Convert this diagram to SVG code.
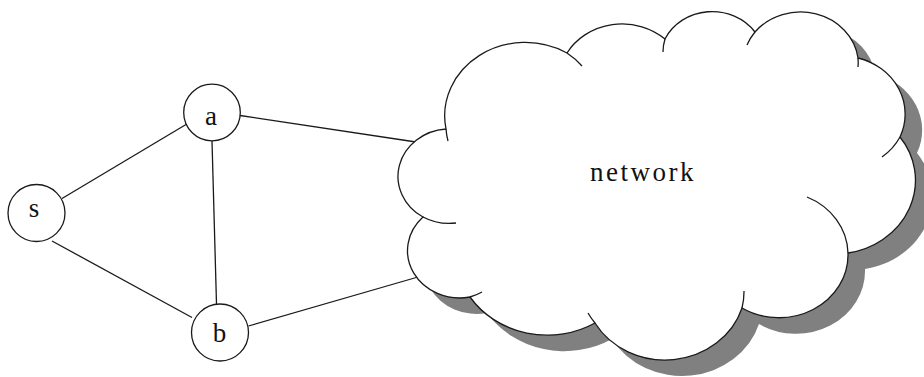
<svg xmlns="http://www.w3.org/2000/svg" width="924" height="377" viewBox="0 0 924 377">
<defs>
<style>
.edge{stroke:#1a1a1a;stroke-width:1.3;fill:none}
.node circle{fill:#fff;stroke:#1a1a1a;stroke-width:1.3}
.lbl{font-family:"Liberation Serif","Times New Roman",serif;font-size:27px;fill:#111;text-anchor:middle}
.tail{fill:none;stroke:#1a1a1a;stroke-width:1.3}
</style>
<path id="cloudShape" d="M446,129 A80.6,73.4 0 0 1 567,53 A63.7,58.1 0 0 1 665,39 A52.1,47.5 0 0 1 755,32 A58,52.7 0 0 1 858,58 A63.7,58.1 0 0 1 900,137 A80.9,73.7 0 0 1 848,253 A69.1,62.9 0 0 1 742,308 A80.6,73.6 0 0 1 595,323 A92.2,84.2 0 0 1 470,297 A52.1,47.3 0 0 1 423,217 A51.9,47.5 0 0 1 446,129 Z"/>
</defs>
<rect width="924" height="377" fill="#fff"/>
<g id="connectors">
<line class="edge" x1="62" y1="198.5" x2="186" y2="124.5"/>
<line class="edge" x1="52" y1="241" x2="192" y2="317.5"/>
<line class="edge" x1="212" y1="141" x2="216.5" y2="304"/>
<line class="edge" x1="240" y1="115.5" x2="416" y2="142"/>
<line class="edge" x1="248.5" y1="326" x2="418" y2="277"/>
</g>
<g id="network">
<use href="#cloudShape" transform="translate(17,16)" fill="#808080"/>
<use href="#cloudShape" fill="#fff" stroke="#1a1a1a" stroke-width="1.3"/>
<path class="tail" d="M446,129 A80.6,73.4 0 0 0 448,141 M567,53 A80.6,73.4 0 0 1 582,66 M665,39 A52.1,47.5 0 0 0 663,52 M755,32 A58,52.7 0 0 0 747,45 M858,58 A58,52.7 0 0 1 858,67 M900,137 A63.7,58.1 0 0 1 882,157 M848,253 A69.1,62.9 0 0 0 807,197 M742,308 A80.6,73.6 0 0 0 744,291 M595,323 A80.6,73.6 0 0 1 588,313 M470,297 A52.1,47.3 0 0 0 482,292 M423,217 A51.9,47.5 0 0 0 456,223"/>
<text class="lbl" x="643" y="181" letter-spacing="2.5">network</text>
</g>
<g id="node-s" class="node">
<circle cx="36.5" cy="213" r="28.5"/>
<text class="lbl" x="34" y="217">s</text>
</g>
<g id="node-a" class="node">
<circle cx="212" cy="112.5" r="28.3"/>
<text class="lbl" x="211" y="125">a</text>
</g>
<g id="node-b" class="node">
<circle cx="220" cy="332.5" r="28.5"/>
<text class="lbl" x="219.5" y="342">b</text>
</g>
</svg>
